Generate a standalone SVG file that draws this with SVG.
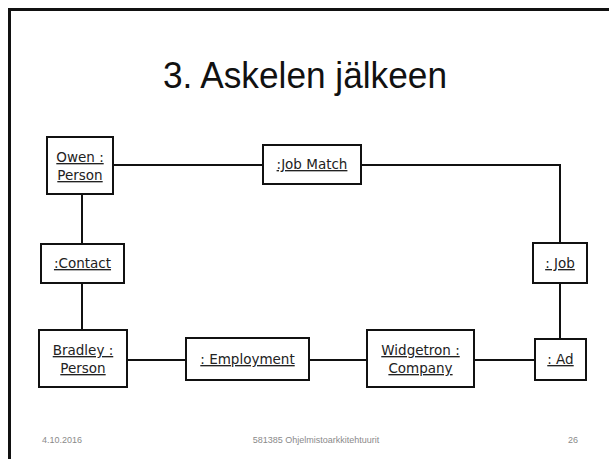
<svg xmlns="http://www.w3.org/2000/svg" width="609" height="459" viewBox="0 0 609 459">
<style>
.box{fill:#fff;stroke:#111;stroke-width:2}
.lbl{font-family:"DejaVu Sans",sans-serif;font-size:13.5px;fill:#222;text-anchor:middle;text-decoration:underline}
.con{fill:none;stroke:#111;stroke-width:2}
.foot{font-family:"Liberation Sans",sans-serif;font-size:9px;fill:#8a8a8a}
</style>
<rect width="609" height="459" fill="#fff"/>
<path d="M9.5 459 V9.5 H609" fill="none" stroke="#111" stroke-width="3"/>
<text x="305" y="88" font-family="'Liberation Sans',sans-serif" font-size="36" text-anchor="middle" textLength="284" lengthAdjust="spacingAndGlyphs" fill="#111">3. Askelen jälkeen</text>
<g id="connectors">
<path class="con" d="M113 165 H263"/>
<path class="con" d="M361 165 H560 V243"/>
<path class="con" d="M560 283 V339"/>
<path class="con" d="M535 360 H474"/>
<path class="con" d="M367 360 H309"/>
<path class="con" d="M186 360 H127"/>
<path class="con" d="M82 330 V283"/>
<path class="con" d="M82 244 V194"/>
</g>
<g id="owen">
<rect class="box" x="47" y="137" width="66" height="57"/>
<text class="lbl" x="80" y="162">Owen :</text>
<text class="lbl" x="80" y="180">Person</text>
</g>
<g id="jobmatch">
<rect class="box" x="263" y="145" width="98" height="39"/>
<text class="lbl" x="312" y="169">:Job Match</text>
</g>
<g id="contact">
<rect class="box" x="41" y="244" width="83" height="39"/>
<text class="lbl" x="82.5" y="268">:Contact</text>
</g>
<g id="job">
<rect class="box" x="533" y="243" width="54" height="40"/>
<text class="lbl" x="560" y="268">: Job</text>
</g>
<g id="bradley">
<rect class="box" x="39" y="330" width="88" height="57"/>
<text class="lbl" x="83" y="355">Bradley :</text>
<text class="lbl" x="83" y="373">Person</text>
</g>
<g id="employment">
<rect class="box" x="186" y="338" width="123" height="42"/>
<text class="lbl" x="247.5" y="364">: Employment</text>
</g>
<g id="widgetron">
<rect class="box" x="367" y="330" width="107" height="57"/>
<text class="lbl" x="420.5" y="355">Widgetron :</text>
<text class="lbl" x="420.5" y="373">Company</text>
</g>
<g id="ad">
<rect class="box" x="535" y="339" width="51" height="41"/>
<text class="lbl" x="560.5" y="364">: Ad</text>
</g>
<text class="foot" x="42" y="443">4.10.2016</text>
<text class="foot" x="316" y="443" text-anchor="middle">581385 Ohjelmistoarkkitehtuurit</text>
<text class="foot" x="568" y="443">26</text>
</svg>
